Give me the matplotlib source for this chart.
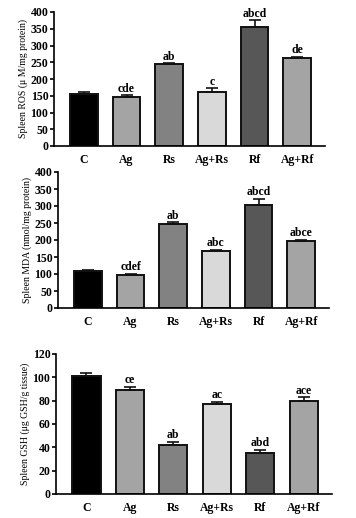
import numpy as np
import matplotlib
matplotlib.use("Agg")
import matplotlib.pyplot as plt

plt.rcParams["font.family"] = ["Liberation Serif", "DejaVu Serif"]

groups = ["C", "Ag", "Rs", "Ag+Rs", "Rf", "Ag+Rf"]
colors = ["#000000", "#a4a4a4", "#828282", "#d9d9d9", "#575757", "#a4a4a4"]

ros = [155, 145, 245, 160, 355, 262]
ros_err = [5, 7, 3, 12, 20, 4]
ros_sig = ["", "cde", "ab", "c", "abcd", "de"]

mda = [110, 98, 248, 168, 302, 197]
mda_err = [3, 3, 4, 3, 20, 4]
mda_sig = ["", "cdef", "ab", "abc", "abcd", "abce"]

gsh = [101, 89, 42, 77, 35, 80]
gsh_err = [3, 3, 3, 2, 3, 3]
gsh_sig = ["", "ce", "ab", "ac", "abd", "ace"]

W, H = 356, 518
fig = plt.figure(figsize=(W / 100, H / 100), dpi=100)


def panel(px, vals, errs, sigs, ylim, step, ylabel):
    left, top, right, bottom = px
    ax = fig.add_axes([left / W, 1 - bottom / H, (right - left) / W, (bottom - top) / H])
    x = np.arange(len(groups))
    ax.bar(x, vals, width=0.65, color=colors, edgecolor="#111111", linewidth=1.4, zorder=2)
    ax.errorbar(x, vals, yerr=[np.zeros(len(vals)), errs], fmt="none",
                ecolor="#111111", elinewidth=1.2, capsize=4, capthick=1.2, zorder=3)
    for xi, v, e, s in zip(x, vals, errs, sigs):
        if s:
            ax.text(xi, v + e + ylim * 0.003, s, ha="center", va="bottom",
                    fontsize=8.5, fontweight="bold")
    ax.set_xlim(-0.7, 5.65)
    ax.set_ylim(0, ylim)
    ax.set_yticks(np.arange(0, ylim + 1, step))
    ax.set_xticks(x)
    ax.set_xticklabels(groups, fontsize=8.5, fontweight="bold")
    for lab in ax.get_yticklabels():
        lab.set_fontweight("bold")
        lab.set_fontsize(8.5)
    ax.tick_params(axis="x", length=0, pad=6)
    ax.tick_params(axis="y", length=3, width=1.2, pad=1)
    ax.spines["top"].set_visible(False)
    ax.spines["right"].set_visible(False)
    ax.spines["left"].set_linewidth(1.2)
    ax.spines["bottom"].set_linewidth(1.2)
    ax.set_ylabel(ylabel, fontsize=7, labelpad=2)
    return ax


panel((54, 12, 325, 146), ros, ros_err, ros_sig, 400, 50, "Spleen ROS (\u03bc M/mg protein)")
panel((58, 172, 329, 308), mda, mda_err, mda_sig, 400, 50, "Spleen MDA (nmol/mg protein)")
panel((56, 354, 332, 494), gsh, gsh_err, gsh_sig, 120, 20, "Spleen GSH (\u03bcg GSH/g tissue)")

fig.savefig("out.png", dpi=100)
